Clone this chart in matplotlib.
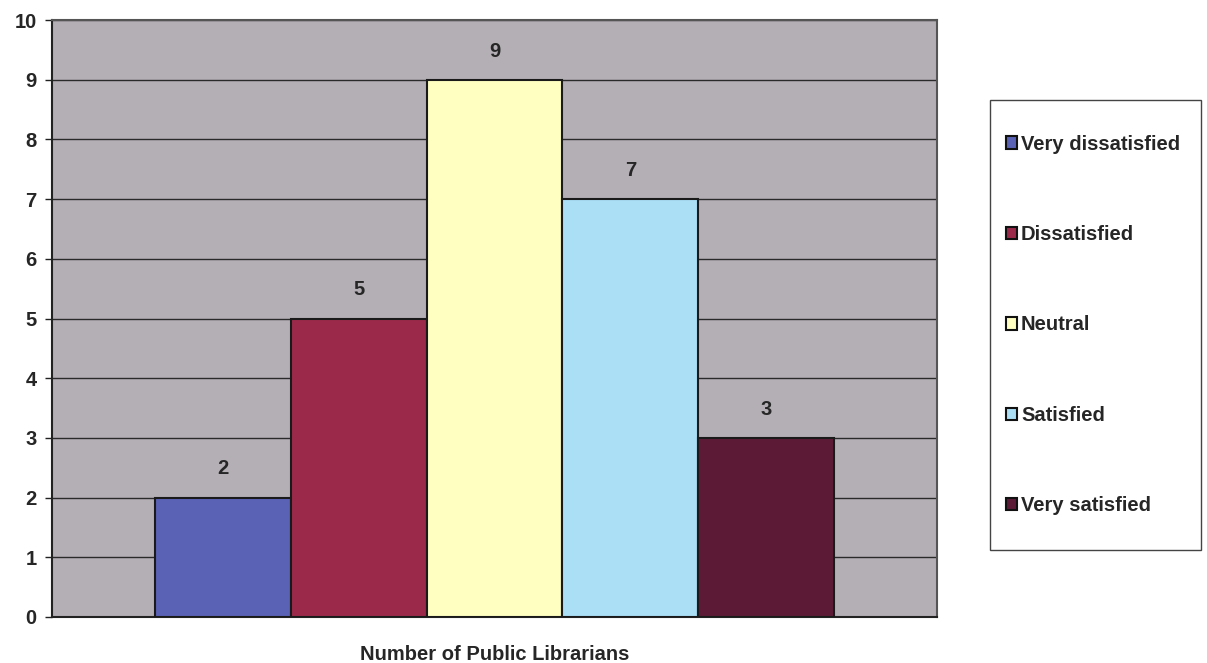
import matplotlib
matplotlib.use("Agg")
import matplotlib.pyplot as plt
from matplotlib.patches import Patch, Rectangle

categories = ["Very dissatisfied", "Dissatisfied", "Neutral", "Satisfied", "Very satisfied"]
values = [2, 5, 9, 7, 3]
colors = ["#5a62b6", "#9b2a4a", "#ffffc2", "#aadff6", "#5c1a36"]
yticks = list(range(0, 11))
xlabel = "Number of Public Librarians"

plt.rcParams['font.family'] = ['Liberation Sans', 'DejaVu Sans']
FS = 14.5
FW = "bold"
TXT = "#262626"

fig = plt.figure(figsize=(12.07, 6.63), dpi=100)
ax = fig.add_axes([52/1207, 1-617/663, (937-52)/1207, (617-20)/663])
ax.set_facecolor("#b4afb5")

x = list(range(len(values)))
ax.bar(x, values, width=1.0, color=colors, edgecolor="#1a1a1a", linewidth=1.5, zorder=3)
for xi, v in zip(x, values):
    ax.text(xi, v + 0.32, str(v), ha="center", va="bottom", fontsize=FS, fontweight=FW,
            color=TXT, zorder=4)

ax.set_xlim(-1.257, 5.257)
ax.set_ylim(0, 10)
ax.set_yticks(yticks)
ax.set_yticklabels([str(t) for t in yticks], fontsize=FS, fontweight=FW, color=TXT)
ax.yaxis.grid(True, color="#2a2a2a", linewidth=1.0, zorder=0)
ax.set_axisbelow(True)
ax.set_xticks([])
ax.tick_params(axis="y", length=5, width=1, color="#222222", pad=6)
for side in ["left", "bottom"]:
    ax.spines[side].set_color("#222222")
    ax.spines[side].set_linewidth(1.5)
for side in ["top", "right"]:
    ax.spines[side].set_color("#555555")
    ax.spines[side].set_linewidth(1.5)

fig.text((52+937)/2/1207, 1-654/663, xlabel, ha="center", va="center", fontsize=FS,
         fontweight=FW, color=TXT)

# legend frame
fig.add_artist(Rectangle((990/1207, 1-550/663), (1201-990)/1207, (550-100)/663,
                         transform=fig.transFigure, facecolor="white", edgecolor="#444444",
                         linewidth=1.0, zorder=1))

handles = [Patch(facecolor=c, edgecolor="#111111", linewidth=1.5) for c in colors]
leg = fig.legend(handles, categories, loc="center left", bbox_to_anchor=(1006/1207, 1-325/663),
                 prop={"size": FS, "weight": FW}, frameon=False,
                 labelspacing=3.55, handlelength=0.56, handleheight=0.56, handletextpad=0.18,
                 borderpad=0, borderaxespad=0)
for t in leg.get_texts():
    t.set_color(TXT)
leg.set_zorder(2)

fig.savefig("out.png", dpi=100, facecolor="white")
